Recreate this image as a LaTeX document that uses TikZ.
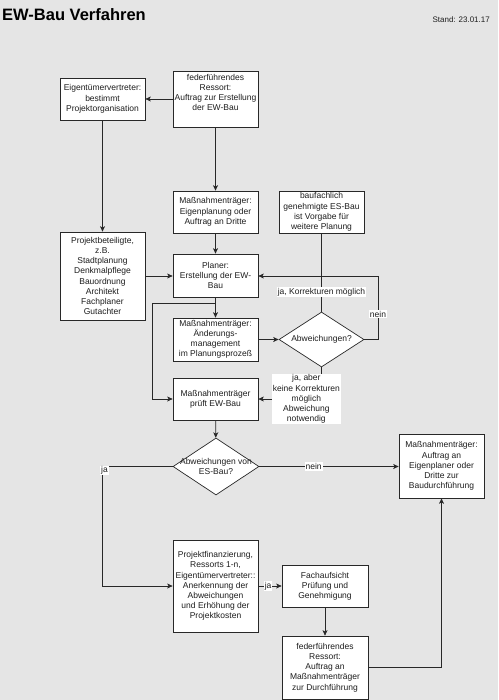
\documentclass[tikz,border=0pt]{standalone}
\usepackage{fontspec}
\setmainfont{Liberation Sans}
\usepackage{tikz}
\usetikzlibrary{arrows,arrows.meta,shapes,positioning}
\usepackage{xcolor}
\definecolor{ewbg}{RGB}{229,229,229}
\definecolor{ewline}{RGB}{40,40,40}
\definecolor{ewtext}{RGB}{30,30,30}
\tikzstyle{arrow} = [-{Stealth[length=5.5pt,width=5pt,inset=1.5pt]},color=ewline,line width=0.7pt]
\tikzstyle{plain} = [color=ewline,line width=0.7pt]
\tikzstyle{ewbox} = [rectangle, draw=ewline, fill=white, line width=0.7pt, minimum width=85pt, minimum height=42pt, inner sep=1pt, align=center, text=ewtext, font=\fontsize{8.5}{10.2}\selectfont]
\tikzstyle{ewdia} = [diamond, draw=ewline, fill=white, line width=0.7pt, inner sep=0pt, minimum width=85pt, minimum height=56pt]
\tikzstyle{lbl} = [fill=white, inner sep=1pt, align=center, text=ewtext, font=\fontsize{8.5}{10.2}\selectfont]

\begin{document}
\begin{tikzpicture}[x=1pt, y=-1pt]
\fill[ewbg] (0,0) rectangle (498,700);
\useasboundingbox (0,0) rectangle (498,700);

% Header
\node (title) [anchor=base west, inner sep=0pt, font=\fontsize{16.5}{18}\selectfont\bfseries] at (2,21) {EW-Bau Verfahren};
\node (stand) [anchor=base east, inner sep=0pt, text=ewtext, font=\fontsize{8}{10}\selectfont] at (490,23) {Stand: 23.01.17};

% Planning phase
\node (eig) [ewbox] at (102.5,99) {Eigentümervertreter:\\bestimmt\\Projektorganisation};
\node (fed1) [ewbox, minimum height=56pt] at (215.5,99) {federführendes\\Ressort:\\Auftrag zur Erstellung\\der EW-Bau\\ \strut};
\node (mt1) [ewbox] at (215.5,212) {Maßnahmenträger:\\Eigenplanung oder\\Auftrag an Dritte};
\node (bau) [ewbox] at (321.5,212) {baufachlich\\genehmigte ES-Bau\\ist Vorgabe für\\weitere Planung};
\node (pb) [ewbox, minimum height=88pt] at (102.5,276) {Projektbeteiligte,\\z.B.\\Stadtplanung\\Denkmalpflege\\Bauordnung\\Architekt\\Fachplaner\\Gutachter};
\node (planer) [ewbox, minimum height=43pt] at (215.5,275.5) {Planer:\\Erstellung der EW-\\Bau};
\node (aend) [ewbox, minimum height=43pt] at (215.5,339.5) {Maßnahmenträger:\\Änderungs-\\management\\im Planungsprozeß};
\node (abw) [ewdia, minimum height=55pt, label={[text=ewtext, font=\fontsize{8.5}{10.2}\selectfont]center:Abweichungen?}] at (321.5,339.5) {};
\node (pruef) [ewbox] at (215.5,399) {Maßnahmenträger\\prüft EW-Bau};

% Decision on deviations
\node (abwes) [ewdia, minimum width=86pt, minimum height=57pt, label={[align=center, text=ewtext, font=\fontsize{8.5}{10.2}\selectfont]center:Abweichungen von\\ES-Bau?}] at (216,466.5) {};
\node (mta) [ewbox, minimum height=64pt] at (441.5,466) {Maßnahmenträger:\\Auftrag an\\Eigenplaner oder\\Dritte zur\\Baudurchführung};
\node (fin) [ewbox, minimum height=92pt] at (215.5,586) {Projektfinanzierung,\\Ressorts 1-n,\\Eigentümervertreter::\\Anerkennung der\\Abweichungen\\und Erhöhung der\\Projektkosten};
\node (fach) [ewbox, minimum width=86pt] at (325,586) {Fachaufsicht\\Prüfung und\\Genehmigung};
\node (fed2) [ewbox, minimum width=86pt, minimum height=63pt] at (325,667.5) {federführendes\\Ressort:\\Auftrag an\\Maßnahmenträger\\zur Durchführung};

\coordinate (br) at (215.5,303);
\coordinate (neinc) at (378,276);

\draw[arrow] (fed1) -- (eig);
\draw[arrow] (eig) -- (pb);
\draw[arrow] (fed1) -- (mt1);
\draw[arrow] (mt1) -- (planer);
\draw[arrow] (pb.east) -- (pb.east -| planer.west);
\draw[arrow] (planer) -- (aend);
\draw[arrow] (br) -- ++(-63.5,0) |- (pruef.west);
\draw[arrow] (aend) -- (abw);
\draw[plain] (bau) -- node[lbl, pos=0.75] {ja, Korrekturen möglich} (abw);
\draw[arrow] (abw.east) -| node[lbl, pos=0.7] {nein} (neinc) -- (neinc -| planer.east);
\draw[arrow] (abw.south) |- node[lbl, pos=0.62] {ja, aber\\keine Korrekturen\\möglich\\Abweichung\\notwendig} (pruef.east);
\draw[arrow] (pruef) -- (abwes);
\draw[arrow] (abwes.west) -| node[lbl, pos=0.5, xshift=2pt, yshift=-4pt] {ja} (fin.west -| eig.south) |- (fin.west);
\draw[arrow] (abwes.east) -- node[lbl, pos=0.39] {nein} (abwes.east -| mta.west);
\draw[arrow] (fin.east) -- node[lbl, pos=0.42] {ja} (fach.west);
\draw[arrow] (fach) -- (fed2);
\draw[arrow] (fed2.east) -| (mta.south);
\end{tikzpicture}
\end{document}
